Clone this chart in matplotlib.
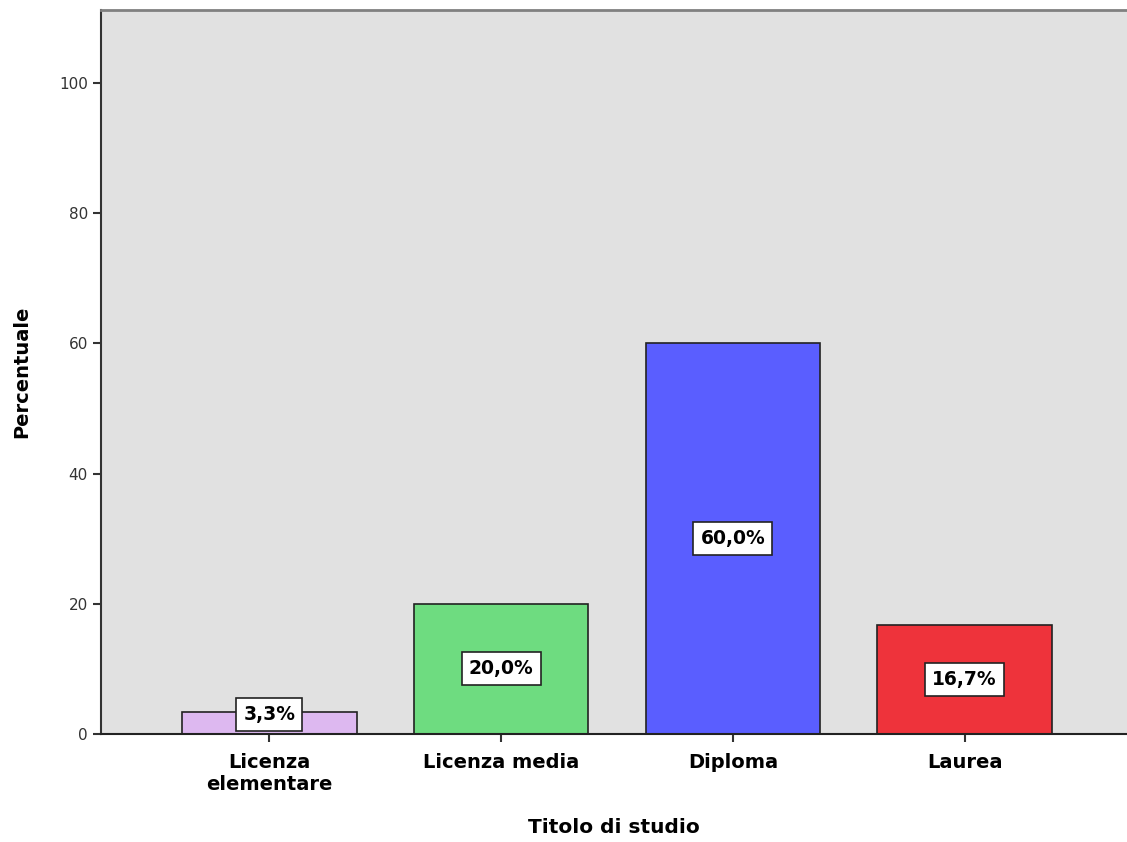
import numpy as np
import matplotlib.pyplot as plt

# dati
categorie = ['Licenza\nelementare', 'Licenza media', 'Diploma', 'Laurea']
percentuali = [3.3, 20.0, 60.0, 16.7]
etichette = ['3,3%', '20,0%', '60,0%', '16,7%']
colori = ['#DDB8F0', '#6EDC80', '#5A5EFF', '#EE333B']

plt.rcParams['font.family'] = ['DejaVu Sans']

fig = plt.figure(figsize=(11.27, 8.42), dpi=100)
ax = fig.add_axes([0.0896, 0.1283, 0.9104, 0.8598])
ax.set_facecolor('#E1E1E1')

x = np.arange(len(categorie))
ax.bar(x, percentuali, width=0.754, color=colori, edgecolor='#222222', linewidth=1.2, zorder=2)

# etichette al centro della barra
for xi, v, lab in zip(x, percentuali, etichette):
    ax.text(xi, max(v / 2, 3.0), lab, ha='center', va='center', fontsize=13.5,
            fontweight='bold', zorder=3,
            bbox=dict(boxstyle='square,pad=0.38', fc='white', ec='#222222', lw=1.2))

ax.set_xlim(-0.726, 3.70)
ax.set_ylim(0, 111.2)
ax.set_yticks([0, 20, 40, 60, 80, 100])
ax.set_xticks(x)
ax.set_xticklabels(categorie, fontsize=14, fontweight='bold', linespacing=1.2)
ax.tick_params(axis='y', labelsize=11, labelcolor='#333333', length=6, width=1.5, color='#333333')
ax.tick_params(axis='x', length=6, width=1.5, color='#333333', pad=8)

ax.spines['left'].set_color('#333333')
ax.spines['left'].set_linewidth(1.5)
ax.spines['bottom'].set_color('#222222')
ax.spines['bottom'].set_linewidth(1.5)
ax.spines['top'].set_color('#808080')
ax.spines['top'].set_linewidth(2)
ax.spines['right'].set_visible(False)

ax.set_ylabel('Percentuale', fontsize=14, fontweight='bold', labelpad=20)
ax.set_xlabel('Titolo di studio', fontsize=14.5, fontweight='bold', labelpad=17)

fig.savefig('out.png', dpi=100)
